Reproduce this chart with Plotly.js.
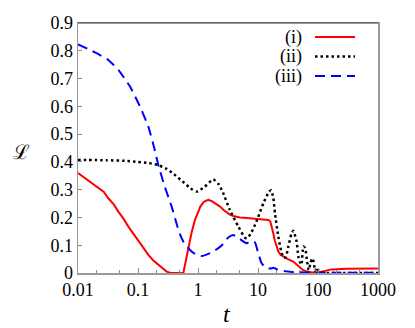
<!DOCTYPE html>
<html>
<head>
<meta charset="utf-8">
<script src="https://cdn.plot.ly/plotly-3.0.1.min.js"></script>
<style>html,body{margin:0;padding:0;background:#fff;}#chart{width:415px;height:328px;}</style>
</head>
<body>
<div id="chart"></div>
<script>
// Series (i): red solid
const tI = [0.01,0.0205,0.027,0.032,0.04,0.047,0.058,0.069,0.085,0.101,0.125,0.149,0.18,0.218,0.26,0.30,0.34,0.36,0.57,0.62,0.69,0.78,0.89,1.0,1.1,1.25,1.49,1.7,1.9,2.33,2.7,3.0,3.4,3.88,5,6.5,10,14.9,16,17,18,19,20,21.8,24,26.4,32,38.8,43,47,55,64.8,80,100,130,169,300,1000];
const yI = [0.360,0.313,0.292,0.269,0.245,0.221,0.194,0.167,0.139,0.113,0.088,0.065,0.045,0.029,0.014,0.005,0.001,0,0,0.040,0.095,0.145,0.191,0.222,0.240,0.256,0.263,0.259,0.252,0.239,0.226,0.218,0.210,0.205,0.200,0.198,0.195,0.191,0.186,0.168,0.143,0.118,0.100,0.077,0.065,0.059,0.049,0.041,0.033,0.023,0.012,0.005,0.002,0.002,0.008,0.013,0.015,0.016];
// Series (ii): black dotted
const tII = [0.01,0.03,0.06,0.1,0.15,0.22,0.3,0.4,0.55,0.75,0.95,1.3,1.8,2.2,2.6,3.4,4.7,6.0,6.5,7.5,8.9,10,12.3,15,16.5,18,19.2,21.8,24.8,27,29,32,36,38.8,44,47,50,53,57,61,66,70,75,80,85,89,95,100,108,150,1000];
const yII = [0.407,0.406,0.404,0.400,0.396,0.388,0.375,0.355,0.330,0.305,0.293,0.311,0.337,0.320,0.290,0.227,0.167,0.128,0.125,0.140,0.173,0.200,0.251,0.290,0.298,0.270,0.215,0.131,0.071,0.055,0.057,0.095,0.140,0.152,0.113,0.060,0.040,0.030,0.095,0.090,0.040,0.011,0.035,0.053,0.040,0.008,0.020,0.012,0.003,0.0,0.0];
// Series (iii): blue dashed
const tIII = [0.01,0.0192,0.032,0.047,0.0736,0.108,0.1486,0.187,0.218,0.28,0.364,0.45,0.5,0.57,0.736,0.9,1.15,1.8,2.5,3.2,3.88,5,6.48,7.84,8.9,10,11.5,13.9,16,18,21,24.8,40,100,1000];
const yIII = [0.823,0.794,0.767,0.731,0.671,0.599,0.527,0.449,0.389,0.31,0.239,0.17,0.14,0.113,0.083,0.068,0.061,0.077,0.10,0.128,0.137,0.122,0.107,0.116,0.110,0.075,0.035,0.017,0.016,0.019,0.013,0.008,0.003,0.001,0.001];

const seriesNames = ['(i)','(ii)','(iii)'];
const xTickVals = [0.01,0.1,1,10,100,1000];
const xTickText = ['0.01','0.1','1','10','100','1000'];
const yTickVals = [0,0.1,0.2,0.3,0.4,0.5,0.6,0.7,0.8,0.9];
const yTickText = ['0','0.1','0.2','0.3','0.4','0.5','0.6','0.7','0.8','0.9'];

const FONT = 'Liberation Serif';
const styles = [
  {color:'#ff0000', width:2, dash:'solid', shape:'linear'},
  {color:'#000000', width:2.5, dash:'2.5px,3px', shape:'spline'},
  {color:'#0000ff', width:2, dash:'10px,6px', shape:'spline'}
];
const xs = [tI,tII,tIII], ys = [yI,yII,yIII];
const traces = xs.map((x,i)=>({x:x, y:ys[i], type:'scatter', mode:'lines', name:seriesNames[i], line:{color:styles[i].color, width:styles[i].width, dash:styles[i].dash, shape:styles[i].shape, smoothing:0.5}, showlegend:false}));

// legend drawn as text + sample lines (paper coords)
const legY = [0.944,0.866,0.788];
const annotations = seriesNames.map((n,i)=>({xref:'paper',yref:'paper',x:0.7533,y:legY[i],xanchor:'right',yanchor:'middle',text:n,showarrow:false,font:{family:FONT,size:18,color:'#000'}}));
annotations.push({xref:'paper',yref:'paper',x:-0.1867,y:0.484,xanchor:'center',yanchor:'middle',text:'ℒ',showarrow:false,font:{family:'DejaVu Serif',size:20,color:'#000'}});
annotations.push({xref:'paper',yref:'paper',x:0.497,y:-0.165,xanchor:'center',yanchor:'middle',text:'<i>t</i>',showarrow:false,font:{family:FONT,size:24,color:'#000'}});
const shapes = styles.map((s,i)=>({type:'line',xref:'paper',yref:'paper',x0:0.79,x1:0.9233,y0:legY[i],y1:legY[i],line:{color:s.color,width:s.width,dash:s.dash}}));
shapes.push({type:'line',xref:'paper',yref:'paper',x0:0,x1:1,y0:1,y1:1,line:{color:'#333',width:1.2}});

const layout = {
  width:415, height:328,
  margin:{l:78,r:37,t:23,b:55},
  paper_bgcolor:'#fff', plot_bgcolor:'#fff',
  font:{family:FONT,size:18,color:'#000'},
  xaxis:{type:'log', range:[-2,3], tickvals:xTickVals, ticktext:xTickText, ticks:'inside', ticklen:5, tickwidth:1, tickcolor:'#888',
    showline:true, linecolor:'#999', linewidth:1.5, mirror:true, showgrid:false, zeroline:false,
    minor:{dtick:'D2', ticks:'inside', ticklen:3, tickcolor:'#888', showgrid:false},
    tickfont:{family:FONT,size:18,color:'#000'}},
  yaxis:{range:[0,0.9], tickvals:yTickVals, ticktext:yTickText, ticks:'inside', ticklen:4, tickwidth:1, tickcolor:'#888',
    showline:true, linecolor:'#999', linewidth:1.5, mirror:true, showgrid:false, zeroline:false,
    tickfont:{family:FONT,size:18,color:'#000'}},
  annotations:annotations, shapes:shapes, showlegend:false
};
Plotly.newPlot('chart', traces, layout, {displayModeBar:false, staticPlot:true});
</script>
</body>
</html>
